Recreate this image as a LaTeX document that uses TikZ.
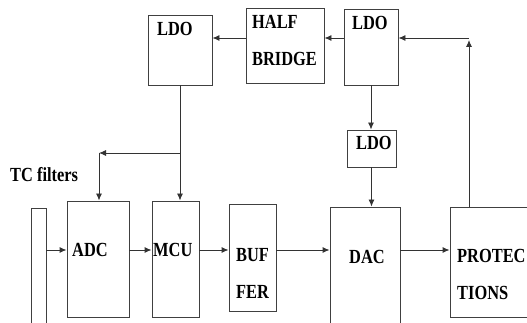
\documentclass[tikz,border=0pt]{standalone}
\usepackage{fontspec}
\setmainfont{Liberation Serif}[FakeStretch=0.82]
\usepackage{tikz}
\usetikzlibrary{arrows.meta,calc}

\begin{document}
\begin{tikzpicture}[x=1pt,y=-1pt,
  blk/.style={draw=black!75, line width=0.9pt, fill=none, inner sep=0pt},
  lbl/.style={font=\fontsize{20}{37}\selectfont\bfseries, inner sep=0pt, anchor=west, align=left},
  arr/.style={-{Latex[length=7pt,width=6pt]}, black!80, line width=0.9pt}]
  \useasboundingbox (0,0) rectangle (527,323);
  % blocks
  \node[blk, minimum width=64, minimum height=70] (ldoA) at (180,50) {};
  \node[blk, minimum width=78, minimum height=75] (hb)   at (285,45.5) {};
  \node[blk, minimum width=54, minimum height=76] (ldoB) at (371,47) {};
  \node[blk, minimum width=49, minimum height=37] (ldoC) at (371.5,148.5) {};
  \node[blk, minimum width=15, minimum height=184] (tcf) at (38.5,300) {};
  \node[blk, minimum width=62, minimum height=116] (adc) at (98,259) {};
  \node[blk, minimum width=47, minimum height=116] (mcu) at (175.5,259) {};
  \node[blk, minimum width=47, minimum height=107] (buf) at (252.5,257.5) {};
  \node[blk, minimum width=70, minimum height=146] (dac) at (365,280) {};
  \node[blk, minimum width=100, minimum height=110] (prot) at (500,262) {};
  % texts
  \node[lbl] (tLdoA) at (157,29)  {LDO};
  \node[lbl] (tHb)   at (252,40)  {HALF\\BRIDGE};
  \node[lbl] (tLdoB) at (352,23)  {LDO};
  \node[lbl] (tLdoC) at (356,143) {LDO};
  \node[lbl] (tTc)   at (10,175)  {TC filters};
  \node[lbl] (tAdc)  at (72,250)  {ADC};
  \node[lbl] (tMcu)  at (153,250) {MCU};
  \node[lbl] (tBuf)  at (236,273) {BUF\\FER};
  \node[lbl] (tDac)  at (349,257) {DAC};
  \node[lbl] (tProt) at (457,274) {PROTEC\\TIONS};
  % links
  \coordinate (rail) at (469,38);
  \coordinate (sig) at (0,250);
  \coordinate (split) at (180,153);
  \coordinate (tap) at (99,153);
  \draw[arr] (ldoB.west |- rail) -- (hb.east |- rail);
  \draw[arr] (hb.west |- rail) -- (ldoA.east |- rail);
  \draw[arr] (rail |- prot.north) -- ([yshift=-2pt]rail);
  \draw[arr] (rail) -- (ldoB.east |- rail);
  \draw[arr] (ldoB.south) -- (ldoB.south |- ldoC.north);
  \draw[arr] (ldoC.south) -- (ldoC.south |- dac.north);
  \draw[arr] (ldoA.south) -- (ldoA.south |- mcu.north);
  \draw[arr] (split) -- (tap);
  \draw[arr] (tap) -- (tap |- adc.north);
  \draw[arr] (tcf.east |- sig) -- (adc.west |- sig);
  \draw[arr] (adc.east |- sig) -- (mcu.west |- sig);
  \draw[arr] (mcu.east |- sig) -- (buf.west |- sig);
  \draw[arr] (buf.east |- sig) -- (dac.west |- sig);
  \draw[arr] (dac.east |- sig) -- (prot.west |- sig);
\end{tikzpicture}
\end{document}
